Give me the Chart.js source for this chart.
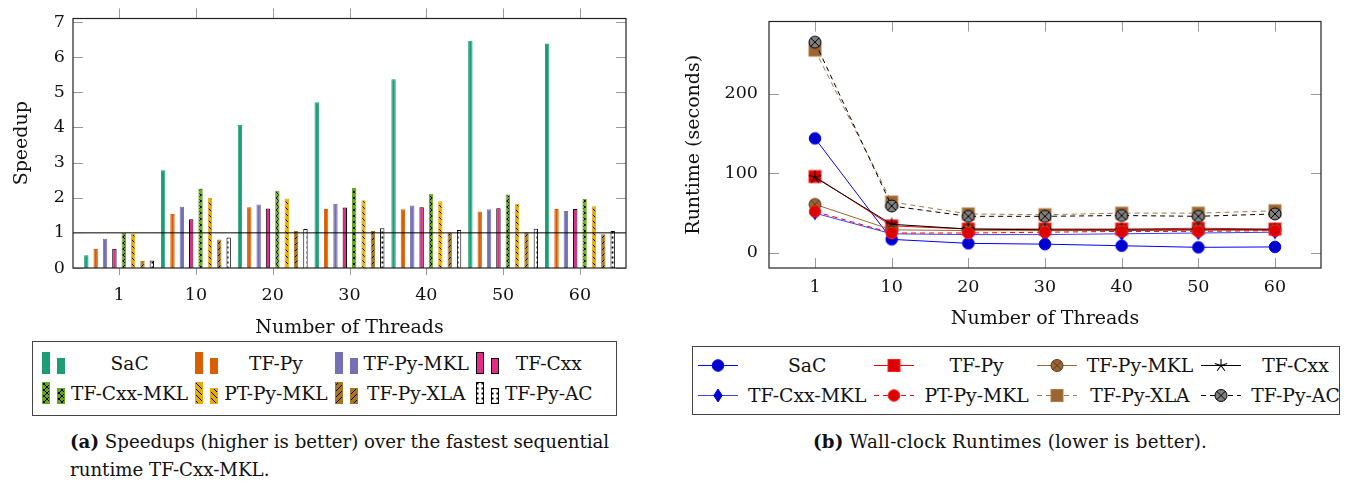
<!DOCTYPE html>
<html><head><meta charset="utf-8">
<script src="https://cdn.jsdelivr.net/npm/chart.js@4.4.1/dist/chart.umd.min.js"></script>
<style>
html,body{margin:0;padding:0;background:#fff;width:1347px;height:486px;overflow:hidden;font-family:'DejaVu Serif',serif;color:#111;}
canvas{position:absolute;}
#c1{left:0;top:0;}
#c2{left:660px;top:0;}
.legend{position:absolute;border:1px solid #444;background:#fff;box-sizing:border-box;}
.legend table{border-collapse:collapse;position:absolute;}
.legend td{padding:0;white-space:nowrap;height:30px;vertical-align:middle;}
.legend td.t{text-align:center;}
.legend td.i canvas{position:static;display:block;}
#lg1{left:32px;top:341px;width:585px;height:75px;}
#lg2{left:692px;top:346px;width:648px;height:69px;}
#lg1 td{font-size:18.6px;}
#lg2 td{font-size:18.8px;}
.cap{position:absolute;font-size:18.2px;line-height:28px;white-space:nowrap;}
</style></head><body>
<canvas id="c1" width="640" height="345"></canvas>
<canvas id="c2" width="687" height="335"></canvas>
<div class="legend" id="lg1"><table id="t1" style="left:8px;top:6px"></table></div>
<div class="legend" id="lg2"><table id="t2" style="left:3px;top:3px"></table></div>
<div class="cap" style="left:70px;top:428px"><b>(a)</b> Speedups (higher is better) over the fastest sequential<br>runtime TF-Cxx-MKL.</div>
<div class="cap" style="left:760px;top:428px;width:500px;text-align:center;letter-spacing:0.25px"><b>(b)</b> Wall-clock Runtimes (lower is better).</div>
<script>
// ---------- data ----------
const threads = ['1', '10', '20', '30', '40', '50', '60'];
const seriesNames = ['SaC', 'TF-Py', 'TF-Py-MKL', 'TF-Cxx', 'TF-Cxx-MKL', 'PT-Py-MKL', 'TF-Py-XLA', 'TF-Py-AC'];

const speedSaC      = [0.36, 2.78, 4.08, 4.72, 5.37, 6.47, 6.39];
const speedTFPy     = [0.54, 1.54, 1.73, 1.68, 1.67, 1.61, 1.68];
const speedTFPyMKL  = [0.83, 1.74, 1.81, 1.83, 1.78, 1.67, 1.62];
const speedTFCxx    = [0.55, 1.39, 1.69, 1.72, 1.73, 1.70, 1.68];
const speedTFCxxMKL = [1.00, 2.26, 2.20, 2.28, 2.11, 2.09, 1.96];
const speedPTPyMKL  = [0.97, 2.00, 1.98, 1.93, 1.90, 1.82, 1.76];
const speedTFPyXLA  = [0.20, 0.81, 1.05, 1.05, 1.01, 1.02, 0.96];
const speedTFPyAC   = [0.21, 0.87, 1.11, 1.13, 1.08, 1.12, 1.05];
const speedupTicks  = [0, 1, 2, 3, 4, 5, 6, 7];
const speedupBaseline = 1;

const rtSaC      = [144, 17, 12, 11, 9, 7, 7.5];
const rtTFPy     = [96, 34, 30, 30, 30, 31, 30];
const rtTFPyMKL  = [61, 29, 28, 28, 28, 29, 29];
const rtTFCxx    = [95, 36, 30, 29, 29, 29, 29];
const rtTFCxxMKL = [50, 24, 23, 23, 24, 25, 26];
const rtPTPyMKL  = [52, 25, 25, 26, 27, 27, 28];
const rtTFPyXLA  = [255, 64, 49, 48, 50, 50, 53];
const rtTFPyAC   = [265, 59, 46, 46, 47, 46, 49];
const runtimeTicks = [0, 100, 200];

// ---------- styles ----------
Chart.defaults.font.family = "'DejaVu Serif', serif";
Chart.defaults.color = '#111';
Chart.defaults.animation = false;

function makePatternCanvas(bg, kind) {
  const s = kind === 'dots' ? 5 : 6;
  const c = document.createElement('canvas'); c.width = s; c.height = s;
  const x = c.getContext('2d');
  x.fillStyle = bg; x.fillRect(0, 0, s, s);
  x.strokeStyle = '#000'; x.fillStyle = '#000'; x.lineWidth = 1;
  const ne = () => { x.beginPath(); x.moveTo(0, s); x.lineTo(s, 0); x.moveTo(-1, 1); x.lineTo(1, -1); x.moveTo(s - 1, s + 1); x.lineTo(s + 1, s - 1); x.stroke(); };
  const nw = () => { x.beginPath(); x.moveTo(0, 0); x.lineTo(s, s); x.moveTo(s - 1, -1); x.lineTo(s + 1, 1); x.moveTo(-1, s - 1); x.lineTo(1, s + 1); x.stroke(); };
  if (kind === 'ne') ne();
  if (kind === 'nw') nw();
  if (kind === 'cross') { ne(); nw(); }
  if (kind === 'dots') { x.fillRect(1.5, 1.5, 2, 2); }
  return c;
}
function pattern(ctx, bg, kind) {
  if (!kind) return bg;
  return ctx.createPattern(makePatternCanvas(bg, kind), 'repeat');
}
const barStyles = [
  { bg: '#1b9e77', border: '#1b9e77' },
  { bg: '#d95f02', border: '#d95f02' },
  { bg: '#7570b3', border: '#7570b3' },
  { bg: '#e7298a', border: '#000000' },
  { bg: '#66a61e', border: '#66a61e', kind: 'cross' },
  { bg: '#e6ab02', border: '#e6ab02', kind: 'nw' },
  { bg: '#a6761d', border: '#a6761d', kind: 'ne' },
  { bg: '#ffffff', border: '#000000', kind: 'dots' }
];

// markers
function drawMarker(x, type, cx, cy, fill, stroke) {
  x.save();
  x.fillStyle = fill; x.strokeStyle = stroke; x.lineWidth = 1;
  if (type === 'circle') { x.beginPath(); x.arc(cx, cy, 5.8, 0, Math.PI * 2); x.fill(); x.stroke(); }
  if (type === 'square') { x.fillRect(cx - 6, cy - 6, 12, 12); x.strokeRect(cx - 6, cy - 6, 12, 12); }
  if (type === 'diamond') { x.beginPath(); x.moveTo(cx, cy - 6.5); x.lineTo(cx + 4.2, cy); x.lineTo(cx, cy + 6.5); x.lineTo(cx - 4.2, cy); x.closePath(); x.fill(); x.stroke(); }
  if (type === 'star') {
    x.strokeStyle = stroke; x.lineWidth = 1.1; x.beginPath();
    for (let k = 0; k < 5; k++) { const a = -Math.PI / 2 + k * 2 * Math.PI / 5; x.moveTo(cx, cy); x.lineTo(cx + 6.5 * Math.cos(a), cy + 6.5 * Math.sin(a)); }
    x.stroke();
  }
  if (type === 'otimes') {
    x.beginPath(); x.arc(cx, cy, 6, 0, Math.PI * 2); x.fill(); x.stroke();
    const d = 6 * Math.SQRT1_2; x.beginPath(); x.moveTo(cx - d, cy - d); x.lineTo(cx + d, cy + d); x.moveTo(cx - d, cy + d); x.lineTo(cx + d, cy - d); x.stroke();
  }
  x.restore();
}
function markerCanvas(type, fill, stroke) {
  const c = document.createElement('canvas'); c.width = 16; c.height = 16;
  drawMarker(c.getContext('2d'), type, 8, 8, fill, stroke);
  return c;
}
const lineStyles = [
  { line: '#0000ff', m: 'circle', fill: '#0000cc', stroke: '#0000ff', dash: [] },
  { line: '#ff0000', m: 'square', fill: '#dd0000', stroke: '#ff2020', dash: [] },
  { line: '#9c6a35', m: 'otimes', fill: '#996633', stroke: '#5a3a18', dash: [] },
  { line: '#000000', m: 'star', fill: '#000000', stroke: '#000000', dash: [] },
  { line: '#3d3dff', m: 'diamond', fill: '#0000cc', stroke: '#0000ff', dash: [] },
  { line: '#ff0000', m: 'circle', fill: '#dd0000', stroke: '#ff2020', dash: [5, 4] },
  { line: '#a57745', m: 'square', fill: '#996633', stroke: '#b07a45', dash: [5, 4] },
  { line: '#000000', m: 'otimes', fill: '#808080', stroke: '#000000', dash: [5, 4] }
];

// frame + pgfplots-like ticks
const framePlugin = {
  id: 'frame',
  afterDraw(chart, args, o) {
    const { ctx, chartArea: a, scales } = chart;
    ctx.save();
    ctx.strokeStyle = '#9a9a9a'; ctx.lineWidth = 1;
    scales.x.ticks.forEach(t => {
      const px = Math.round(scales.x.getPixelForValue(t.value)) + 0.5;
      ctx.beginPath();
      if (o.xOutside) { ctx.moveTo(px, a.bottom); ctx.lineTo(px, a.bottom + o.xBottomLen); ctx.moveTo(px, a.top); ctx.lineTo(px, a.top - o.xTopLen); }
      else { ctx.moveTo(px, a.bottom); ctx.lineTo(px, a.bottom - 10); ctx.moveTo(px, a.top); ctx.lineTo(px, a.top + 10); }
      ctx.stroke();
    });
    scales.y.ticks.forEach(t => {
      const py = Math.round(scales.y.getPixelForValue(t.value)) + 0.5;
      ctx.beginPath();
      ctx.moveTo(a.left, py); ctx.lineTo(a.left + 10, py);
      ctx.moveTo(a.right, py); ctx.lineTo(a.right - 10, py);
      ctx.stroke();
    });
    ctx.strokeStyle = '#222'; ctx.lineWidth = 1.2;
    ctx.strokeRect(a.left, a.top, a.right - a.left, a.bottom - a.top);
    ctx.restore();
  }
};
const idxTicks = axis => { axis.ticks = threads.map((t, i) => ({ value: i })); };

// ---------- chart (a) ----------
const ctx1 = document.getElementById('c1').getContext('2d');
const speedSeries = [speedSaC, speedTFPy, speedTFPyMKL, speedTFCxx, speedTFCxxMKL, speedPTPyMKL, speedTFPyXLA, speedTFPyAC];
const barSets = speedSeries.map((arr, k) => ({
  type: 'bar',
  label: seriesNames[k],
  data: arr.map((v, i) => ({ x: i, y: v })),
  backgroundColor: pattern(ctx1, barStyles[k].bg, barStyles[k].kind),
  borderColor: barStyles[k].border,
  borderWidth: 1,
  barPercentage: 0.47,
  categoryPercentage: 0.975
}));
barSets.push({
  type: 'line', label: 'baseline',
  data: [{ x: -0.6, y: speedupBaseline }, { x: threads.length - 0.4, y: speedupBaseline }],
  borderColor: '#000', borderWidth: 1, pointRadius: 0, order: -1
});
new Chart(ctx1, {
  type: 'bar',
  data: { datasets: barSets },
  plugins: [framePlugin],
  options: {
    responsive: false, animation: false,
    layout: { padding: { left: 0, top: 10, right: 14, bottom: 0 } },
    plugins: { legend: { display: false }, tooltip: { enabled: false }, frame: { xOutside: true, xTopLen: 10, xBottomLen: 7 } },
    scales: {
      x: {
        type: 'linear', min: -0.6, max: threads.length - 0.4, offset: false,
        afterBuildTicks: idxTicks,
        afterFit: s => { s.height = 77; },
        grid: { display: false, drawTicks: false }, border: { display: false },
        ticks: { autoSkip: false, maxRotation: 0, padding: 16.5, font: { size: 17.5 }, callback: v => threads[Math.round(v)] },
        title: { display: true, text: 'Number of Threads', font: { size: 19 }, padding: { top: 0, bottom: 6 } }
      },
      y: {
        min: 0, max: 7.1,
        afterBuildTicks: axis => { axis.ticks = speedupTicks.map(v => ({ value: v })); },
        afterFit: s => { s.width = 73; },
        grid: { display: false, drawTicks: false }, border: { display: false },
        ticks: { padding: 8, font: { size: 17.5 } },
        title: { display: true, text: 'Speedup', font: { size: 19 }, padding: { top: 11, bottom: 0 } }
      }
    }
  }
});

// ---------- chart (b) ----------
const ctx2 = document.getElementById('c2').getContext('2d');
const rtSeries = [rtSaC, rtTFPy, rtTFPyMKL, rtTFCxx, rtTFCxxMKL, rtPTPyMKL, rtTFPyXLA, rtTFPyAC];
const lineSets = rtSeries.map((arr, k) => {
  const st = lineStyles[k];
  return {
    label: seriesNames[k],
    data: arr.map((v, i) => ({ x: i, y: v })),
    borderColor: st.line, borderWidth: 1, borderDash: st.dash,
    pointStyle: markerCanvas(st.m, st.fill, st.stroke),
    pointRadius: 6, tension: 0, fill: false,
    order: rtSeries.length - 1 - k
  };
});
new Chart(ctx2, {
  type: 'line',
  data: { datasets: lineSets },
  plugins: [framePlugin],
  options: {
    responsive: false, animation: false,
    layout: { padding: { left: 0, top: 10, right: 26, bottom: 0 } },
    plugins: { legend: { display: false }, tooltip: { enabled: false }, frame: { xOutside: false } },
    scales: {
      x: {
        type: 'linear', min: -0.6, max: threads.length - 0.4, offset: false,
        afterBuildTicks: idxTicks,
        afterFit: s => { s.height = 67; },
        grid: { display: false, drawTicks: false }, border: { display: false },
        ticks: { autoSkip: false, maxRotation: 0, padding: 9, font: { size: 17.5 }, callback: v => threads[Math.round(v)] },
        title: { display: true, text: 'Number of Threads', font: { size: 19 }, padding: { top: 0, bottom: 5 } }
      },
      y: {
        min: -19, max: 291,
        afterBuildTicks: axis => { axis.ticks = runtimeTicks.map(v => ({ value: v })); },
        afterFit: s => { s.width = 109; },
        grid: { display: false, drawTicks: false }, border: { display: false },
        ticks: { padding: 11, font: { size: 17.5 } },
        title: { display: true, text: 'Runtime (seconds)', font: { size: 19 }, padding: { top: 22.5, bottom: 0 } }
      }
    }
  }
});

// ---------- legends ----------
function barIcon(k) {
  const c = document.createElement('canvas'); c.width = 26; c.height = 24;
  const x = c.getContext('2d'); const st = barStyles[k];
  const p = pattern(x, st.bg, st.kind);
  [[1, 1, 22], [16, 7, 16]].forEach(([bx, by, bh]) => {
    x.fillStyle = p; x.fillRect(bx, by, 8, bh);
    x.strokeStyle = st.border; x.lineWidth = 1; x.strokeRect(bx + 0.5, by + 0.5, 7, bh - 1);
  });
  return c;
}
function lineIcon(k) {
  const c = document.createElement('canvas'); c.width = 44; c.height = 16;
  const x = c.getContext('2d'); const st = lineStyles[k];
  x.strokeStyle = st.line; x.lineWidth = 1; x.setLineDash(st.dash);
  x.beginPath(); x.moveTo(2, 8.5); x.lineTo(42, 8.5); x.stroke(); x.setLineDash([]);
  drawMarker(x, st.m, 22, 8.5, st.fill, st.stroke);
  return c;
}
function buildLegend(tableId, iconFn, iconPad, textPad) {
  const t = document.getElementById(tableId);
  for (let r = 0; r < 2; r++) {
    const tr = document.createElement('tr');
    for (let cI = 0; cI < 4; cI++) {
      const k = r * 4 + cI;
      const ti = document.createElement('td'); ti.className = 'i';
      ti.style.paddingRight = iconPad + 'px';
      ti.appendChild(iconFn(k));
      const tt = document.createElement('td'); tt.className = 't';
      tt.style.padding = '0 ' + textPad + 'px 0 0';
      tt.textContent = seriesNames[k];
      tr.appendChild(ti); tr.appendChild(tt);
    }
    t.appendChild(tr);
  }
}
buildLegend('t1', barIcon, 4, 6);
buildLegend('t2', lineIcon, 8, 6);
</script>
</body></html>
